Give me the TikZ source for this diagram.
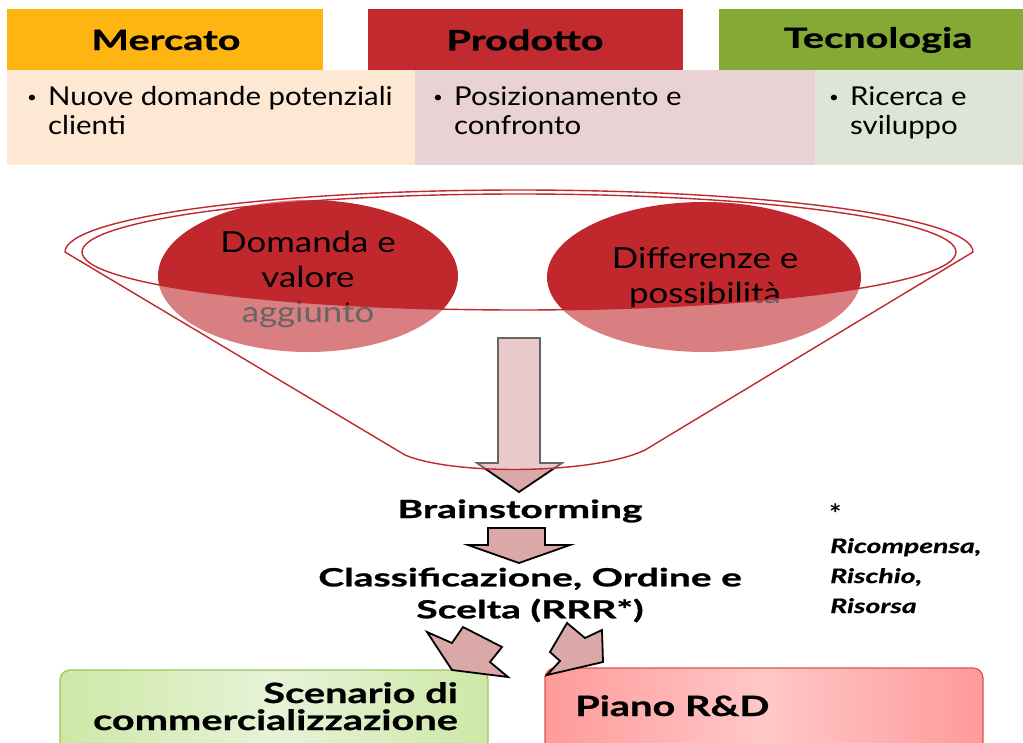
\documentclass[tikz,border=0pt]{standalone}
\usepackage{fontspec}
\setmainfont{Lato}
\newfontfamily\stA[FakeStretch=1.13]{Lato}
\newfontfamily\stB[FakeStretch=1.2]{Lato}
\newfontfamily\stC[FakeStretch=1.42, BoldFeatures={FakeBold=0.8}]{Lato}
\newfontfamily\stD[FakeStretch=1.56, BoldFeatures={FakeBold=1}]{Lato}
\newfontfamily\stN[FakeStretch=1.42, BoldItalicFeatures={FakeBold=0.6}]{Lato}
\definecolor{mkt}{HTML}{FFB511}
\definecolor{prd}{HTML}{C12B30}
\definecolor{tec}{HTML}{84A935}
\definecolor{mktL}{HTML}{FDE9D3}
\definecolor{prdL}{HTML}{E8D2D3}
\definecolor{tecL}{HTML}{DFE5D6}
\definecolor{fred}{HTML}{C0282D}
\definecolor{arr}{HTML}{DBA8A8}
\definecolor{grnA}{HTML}{CDE8A6}
\definecolor{grnB}{HTML}{E6F3D8}
\definecolor{grnE}{HTML}{9CC35E}
\definecolor{pnkA}{HTML}{FF9A9A}
\definecolor{pnkB}{HTML}{FFC8C8}
\definecolor{pnkE}{HTML}{D9534F}
\newcommand{\smbul}{\makebox[26pt][l]{\hspace*{5pt}\raisebox{3pt}{\fontsize{15}{15}\selectfont •}}}
\tikzset{
  hdr/.style={font=\stC\bfseries\fontsize{28}{30}\selectfont, inner sep=0},
  bul/.style={font=\stA\fontsize{26}{29}\selectfont, align=left, inner sep=0, anchor=north west},
  elltext/.style={font=\stB\fontsize{29}{35}\selectfont, align=center, inner sep=0},
  midtext/.style={font=\stD\bfseries\fontsize{25}{32}\selectfont, align=center, inner sep=0},
  boxtext/.style={font=\stC\bfseries\fontsize{28}{27}\selectfont, inner sep=0},
  notetext/.style={font=\stN\bfseries\itshape\fontsize{20}{30}\selectfont, align=left, inner sep=0},
  funnelline/.style={draw=fred, line width=1.4pt},
  blockarrow/.style={fill=arr, draw=black, line width=1.8pt, line join=miter},
}
\begin{document}
\begin{tikzpicture}[x=1pt,y=-1pt]
\useasboundingbox (0,0) rectangle (1023,742);
\clip (0,0) rectangle (1023,742);
\fill[white] (0,0) rectangle (1023,742);
% header bars
\fill[mkt] (7,9) rectangle (323,70);
\fill[prd] (368,9) rectangle (683,70);
\fill[tec] (719,9) rectangle (1023,70);
\fill[mktL] (7,70) rectangle (415,165);
\fill[prdL] (415,70) rectangle (815,165);
\fill[tecL] (815,70) rectangle (1023,165);
\node[hdr] (mercato) at (166,40) {Mercato};
\node[hdr] (prodotto) at (525,40) {Prodotto};
\node[hdr] (tecnologia) at (878,40) {Tecnologia};
\node[bul] (bmkt) at (22,86) {\smbul Nuove domande potenziali\\\hspace*{26pt}clienti};
\node[bul] (bprd) at (428,86) {\smbul Posizionamento e\\\hspace*{26pt}confronto};
\node[bul] (btec) at (824,86) {\smbul Ricerca e\\\hspace*{26pt}sviluppo};
% red ellipses
\fill[fred] (308,276) ellipse[x radius=150, y radius=76];
\fill[fred] (704,277) ellipse[x radius=157, y radius=75];
\node[elltext] (domanda) at (308,279) {Domanda e\\valore\\aggiunto};
\node[elltext] (differenze) at (705,278) {Differenze e\\possibilità};
% big arrow
\draw[blockarrow] (498,338) -- (540,338) -- (540,463) -- (562,463) -- (519,492) -- (477,463) -- (498,463) -- cycle;
% funnel overlay
\path[fill=white, fill opacity=0.4, even odd rule]
  (65,252) arc[start angle=180, end angle=360, x radius=454, y radius=62]
  -- (645,450) .. controls (595,474) and (455,476) .. (405,455) -- cycle
  (519,252) ellipse[x radius=437, y radius=58];
\draw[funnelline, line join=round]
  (65,252) arc[start angle=180, end angle=360, x radius=454, y radius=62]
  -- (645,450) .. controls (595,474) and (455,476) .. (405,455) -- cycle;
\draw[funnelline] (519,252) ellipse[x radius=437, y radius=58];
% middle
\node[midtext] (brain) at (520,511) {Brainstorming};
\draw[blockarrow] (488,528) -- (545,528) -- (545,545) -- (570,545) -- (519,563) -- (468,545) -- (488,545) -- cycle;
\node[midtext] (classif) at (530,595) {Classificazione, Ordine e\\Scelta (RRR*)};
\node[font=\stA\bfseries\fontsize{26}{26}\selectfont, inner sep=0, anchor=base west] (star) at (829,523) {*};
\node[notetext, anchor=north west] (note) at (830,538) {Ricompensa,\\Rischio,\\Risorsa};
% bottom boxes
\shade[rounded corners=10pt, left color=grnA, right color=grnA, middle color=grnB] (60,670) rectangle (488,770);
\draw[grnE, line width=1.2pt, rounded corners=10pt] (60,670) rectangle (488,770);
\shade[rounded corners=10pt, left color=pnkA, right color=pnkA, middle color=pnkB] (545,668) rectangle (983,770);
\draw[pnkE, line width=1.2pt, rounded corners=10pt] (545,668) rectangle (983,770);
\node[boxtext, align=right, anchor=north east] (scen) at (458,682) {Scenario di\\commercializzazione};
\node[boxtext, anchor=base west] (piano) at (575,716) {Piano R\&D};
% bent arrows
\draw[blockarrow] (427,632) -- (452,643) -- (463,627) -- (502,647) -- (490,662) -- (508,677) -- (452,670) -- cycle;
\draw[blockarrow] (602,630) -- (585,638) -- (567,623) -- (550,652) -- (560,661) -- (547,675) -- (603,662) -- cycle;
\end{tikzpicture}
\end{document}
